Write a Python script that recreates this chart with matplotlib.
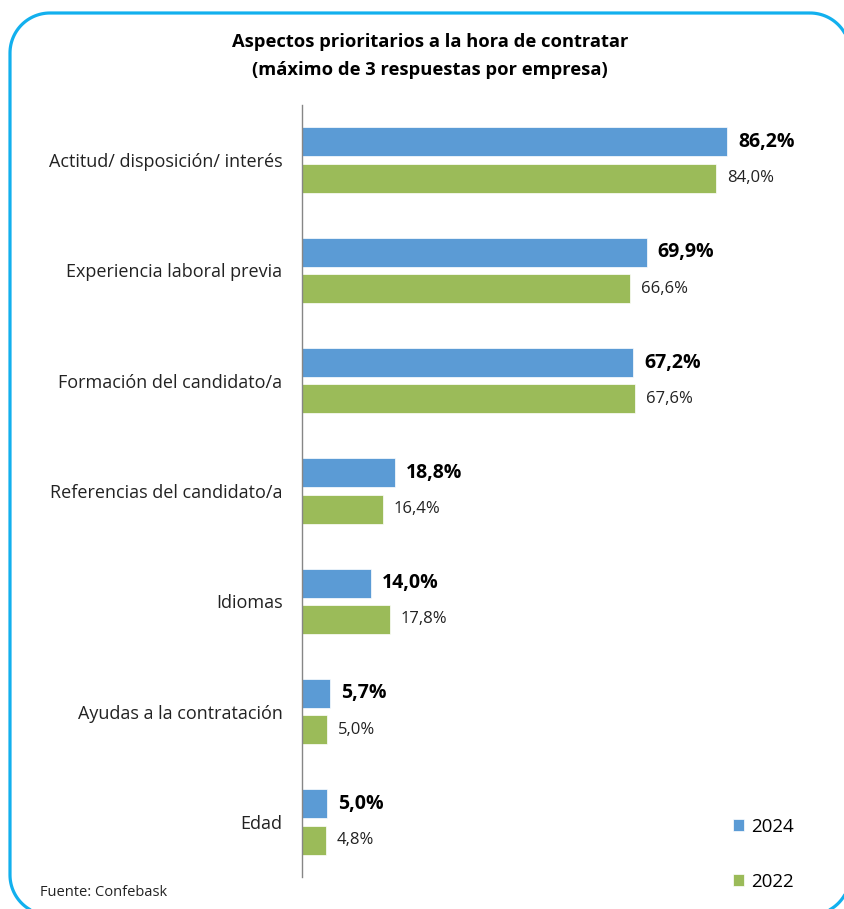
import matplotlib
matplotlib.use("Agg")
from matplotlib import pyplot as plt
from matplotlib import patches as patches
import numpy as np

plt.rcParams['font.family'] = ['Open Sans', 'DejaVu Sans']

categories = ['Actitud/ disposición/ interés', 'Experiencia laboral previa',
              'Formación del candidato/a', 'Referencias del candidato/a',
              'Idiomas', 'Ayudas a la contratación', 'Edad']
vals_2024 = [86.2, 69.9, 67.2, 18.8, 14.0, 5.7, 5.0]
vals_2022 = [84.0, 66.6, 67.6, 16.4, 17.8, 5.0, 4.8]

blue = '#5B9BD5'
green = '#9BBB59'

fig = plt.figure(figsize=(8.44, 9.09), dpi=100)

# background axes in pixel units for the rounded frame
bg = fig.add_axes([0, 0, 1, 1])
bg.set_xlim(0, 844)
bg.set_ylim(909, 0)
bg.axis('off')


def rounded_rect(x0, y0, x1, y1, r, n=30):
    pts = []
    for cx, cy, a0 in [(x1 - r, y0 + r, -90), (x1 - r, y1 - r, 0),
                       (x0 + r, y1 - r, 90), (x0 + r, y0 + r, 180)]:
        t = np.radians(np.linspace(a0, a0 + 90, n))
        pts += list(zip(cx + r * np.cos(t), cy + r * np.sin(t)))
    return np.array(pts)


frame = patches.Polygon(rounded_rect(10, 13, 850, 915, 40), closed=True, fill=False,
                        edgecolor='#12B0EE', linewidth=2.3, joinstyle='round')
bg.add_patch(frame)

ax = fig.add_axes([302 / 844, 1 - 877 / 909, 493 / 844, (877 - 105) / 909])

y = np.arange(len(categories))
h = 0.263
off = 0.165
b1 = ax.barh(y - off, vals_2024, height=h, color=blue, edgecolor='white', linewidth=0.5, label='2024')
b2 = ax.barh(y + off, vals_2022, height=h, color=green, edgecolor='white', linewidth=0.5, label='2022')

for v, yy in zip(vals_2024, y - off):
    ax.annotate(f"{v:.1f}%".replace('.', ','), (v, yy), xytext=(8, 0),
                textcoords='offset points', va='center', ha='left',
                fontsize=14, fontweight='bold', color='black')
for v, yy in zip(vals_2022, y + off):
    ax.annotate(f"{v:.1f}%".replace('.', ','), (v, yy), xytext=(8, 0),
                textcoords='offset points', va='center', ha='left',
                fontsize=12, color='#222222')

ax.set_xlim(0, 100)
ax.set_ylim(len(categories) - 0.5, -0.5)
ax.set_yticks(y)
ax.set_yticklabels(categories, fontsize=13, color='#222222')
ax.tick_params(axis='y', length=0, pad=14)
ax.set_xticks([])
for s in ['top', 'right', 'bottom']:
    ax.spines[s].set_visible(False)
ax.spines['left'].set_color('#868686')
ax.spines['left'].set_linewidth(1)

fig.text(430 / 844, 1 - 42 / 909, 'Aspectos prioritarios a la hora de contratar',
         ha='center', va='center', fontsize=13.2, fontweight='bold')
fig.text(430 / 844, 1 - 70 / 909, '(máximo de 3 respuestas por empresa)',
         ha='center', va='center', fontsize=13.2, fontweight='bold')

fig.legend(handles=[b1, b2], loc='upper left', bbox_to_anchor=(725 / 844, 1 - 810 / 909),
           frameon=False, fontsize=13.5, handlelength=0.6, handleheight=0.6,
           handletextpad=0.4, labelspacing=2.0, borderaxespad=0)

fig.text(40 / 844, 1 - 893 / 909, 'Fuente: Confebask', ha='left', va='center',
         fontsize=10.5, color='#222222')

fig.savefig('out.png', dpi=100)
